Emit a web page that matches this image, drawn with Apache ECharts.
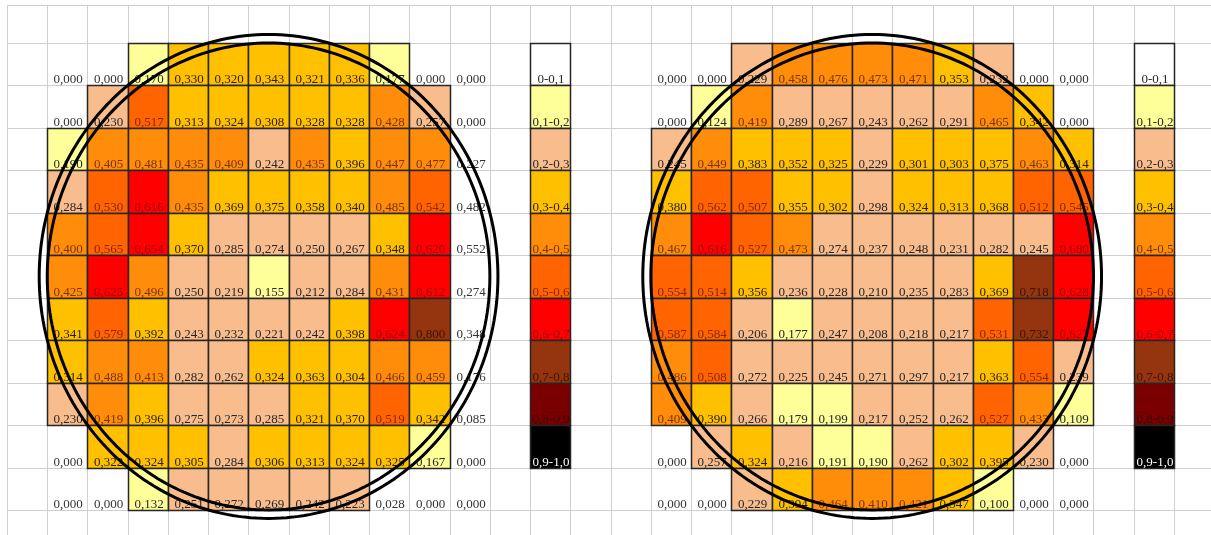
<!DOCTYPE html>
<html>
<head>
<meta charset="utf-8">
<script src="https://cdn.jsdelivr.net/npm/echarts@6/dist/echarts.min.js"></script>
<style>
  html, body { margin: 0; padding: 0; background: #ffffff; }
  #chart { width: 1211px; height: 535px; }
</style>
</head>
<body>
<div id="chart"></div>
<script>
// Wafer A: measured value per die, row by row (11 x 11)
const waferA = [
  [0.000, 0.000, 0.170, 0.330, 0.320, 0.343, 0.321, 0.336, 0.177, 0.000, 0.000],
  [0.000, 0.230, 0.517, 0.313, 0.324, 0.308, 0.328, 0.328, 0.428, 0.257, 0.000],
  [0.190, 0.405, 0.481, 0.435, 0.409, 0.242, 0.435, 0.396, 0.447, 0.477, 0.227],
  [0.284, 0.530, 0.616, 0.435, 0.369, 0.375, 0.358, 0.340, 0.485, 0.542, 0.482],
  [0.400, 0.565, 0.654, 0.370, 0.285, 0.274, 0.250, 0.267, 0.348, 0.620, 0.552],
  [0.425, 0.625, 0.496, 0.250, 0.219, 0.155, 0.212, 0.284, 0.431, 0.612, 0.274],
  [0.341, 0.579, 0.392, 0.243, 0.232, 0.221, 0.242, 0.398, 0.624, 0.7996, 0.348],
  [0.314, 0.488, 0.413, 0.282, 0.262, 0.324, 0.363, 0.304, 0.466, 0.459, 0.176],
  [0.230, 0.419, 0.396, 0.275, 0.273, 0.285, 0.321, 0.370, 0.519, 0.342, 0.085],
  [0.000, 0.322, 0.324, 0.305, 0.284, 0.306, 0.313, 0.324, 0.325, 0.167, 0.000],
  [0.000, 0.000, 0.132, 0.251, 0.272, 0.269, 0.242, 0.223, 0.028, 0.000, 0.000]
];
// Wafer A: first and last die column of the wafer in each row
const waferASpans = [[2, 8], [1, 9], [0, 9], [0, 9], [0, 9], [0, 9], [0, 9], [0, 9], [0, 9], [1, 9], [2, 7]];

// Wafer B: measured value per die, row by row (11 x 11)
const waferB = [
  [0.000, 0.000, 0.229, 0.458, 0.476, 0.473, 0.471, 0.353, 0.232, 0.000, 0.000],
  [0.000, 0.124, 0.419, 0.289, 0.267, 0.243, 0.262, 0.291, 0.465, 0.342, 0.000],
  [0.245, 0.449, 0.383, 0.352, 0.325, 0.229, 0.301, 0.303, 0.375, 0.463, 0.314],
  [0.380, 0.562, 0.507, 0.355, 0.302, 0.298, 0.324, 0.313, 0.368, 0.512, 0.545],
  [0.467, 0.616, 0.527, 0.473, 0.274, 0.237, 0.248, 0.231, 0.282, 0.245, 0.680],
  [0.554, 0.514, 0.356, 0.236, 0.228, 0.210, 0.235, 0.283, 0.369, 0.718, 0.628],
  [0.587, 0.584, 0.206, 0.177, 0.247, 0.208, 0.218, 0.217, 0.531, 0.732, 0.627],
  [0.486, 0.508, 0.272, 0.225, 0.245, 0.271, 0.297, 0.217, 0.363, 0.554, 0.239],
  [0.409, 0.390, 0.266, 0.179, 0.199, 0.217, 0.252, 0.262, 0.527, 0.433, 0.109],
  [0.000, 0.257, 0.324, 0.216, 0.191, 0.190, 0.262, 0.302, 0.395, 0.230, 0.000],
  [0.000, 0.000, 0.229, 0.394, 0.464, 0.410, 0.421, 0.347, 0.100, 0.000, 0.000]
];
// Wafer B: first and last die column of the wafer in each row
const waferBSpans = [[2, 8], [1, 9], [0, 10], [0, 10], [0, 10], [0, 10], [0, 10], [0, 10], [0, 10], [1, 9], [2, 8]];

// Colour scale classes
const binLabels = ['0-0,1', '0,1-0,2', '0,2-0,3', '0,3-0,4', '0,4-0,5', '0,5-0,6', '0,6-0,7', '0,7-0,8', '0,8-0,9', '0,9-1,0'];

// Wafer outline rings, radius in die units
const ringRadii = [5.5, 5.7];

// ---- styling ----
const BIN_COLORS = ['#ffffff', '#ffff99', '#f9bd8d', '#ffc000', '#ff8d0a', '#ff6400', '#ff0000', '#943510', '#7a0000', '#000000'];
const TEXT_COLORS = ['#262626', '#262626', '#262626', '#2a1c08', '#7a3300', '#8a2600', '#9a0000', '#3d1504', '#3a0000', '#ffffff'];
const CELL_BORDER = '#262626';
const SHEET_LINE = '#cfcfcf';
const FONT = '"Liberation Serif", "Times New Roman", serif';

// ---- sheet layout (cell units) ----
const COL_W = 40.24, ROW_H = 42.45;
const SHEET_LEFT = 7, SHEET_TOP = 5, FIRST_ROW_Y = 43;
const TOP_ROW = -(FIRST_ROW_Y - SHEET_TOP) / ROW_H;
const N_COLS = 30, N_ROWS = 12;
const WAFER_A_COL = 1, LEGEND_A_COL = 13, WAFER_B_COL = 16, LEGEND_B_COL = 28;
const WAFER_N = 11;

function binOf(v) { return Math.max(0, Math.min(9, Math.floor(v * 10 + 1e-9))); }
function fmt(v) { return v.toFixed(3).replace('.', ','); }

function cellRect(api, c, r) {
  const p0 = api.coord([c, r]);
  const p1 = api.coord([c + 1, r + 1]);
  const x0 = Math.round(p0[0]) + 0.5, y0 = Math.round(p0[1]) + 0.5;
  const x1 = Math.round(p1[0]) + 0.5, y1 = Math.round(p1[1]) + 0.5;
  return { x: x0, y: y0, width: x1 - x0, height: y1 - y0 };
}

function cellText(rect, text, color) {
  return {
    type: 'text',
    style: {
      text: text,
      x: rect.x + rect.width / 2 + 0.5,
      y: rect.y + rect.height + 0.5,
      align: 'center', verticalAlign: 'bottom',
      textAlign: 'center', textVerticalAlign: 'bottom',
      fill: color, fontSize: 13, fontFamily: FONT
    }
  };
}

// sheet gridlines: [orientation, position]
const sheetLines = [];
for (let c = 0; c <= N_COLS; c++) sheetLines.push([0, c]);
sheetLines.push([1, TOP_ROW]);
for (let r = 0; r <= N_ROWS; r++) sheetLines.push([1, r]);

// die cells: [sheetCol, row, value, insideWafer]
function dieData(values, spans, col0) {
  const out = [];
  values.forEach((row, r) => {
    row.forEach((v, c) => {
      const inside = c >= spans[r][0] && c <= spans[r][1] ? 1 : 0;
      out.push([col0 + c, r, v, inside]);
    });
  });
  return out;
}
const dieCells = dieData(waferA, waferASpans, WAFER_A_COL).concat(dieData(waferB, waferBSpans, WAFER_B_COL));

// legend cells: [sheetCol, row, binIndex]
const legendCells = [];
binLabels.forEach((lab, i) => {
  legendCells.push([LEGEND_A_COL, i, i]);
  legendCells.push([LEGEND_B_COL, i, i]);
});

// rings: [centerCol, centerRow, radius]
const rings = [];
[WAFER_A_COL, WAFER_B_COL].forEach(col0 => {
  ringRadii.forEach(rad => rings.push([col0 + WAFER_N / 2, WAFER_N / 2, rad]));
});

const chart = echarts.init(document.getElementById('chart'), null, { renderer: 'canvas' });
chart.setOption({
  animation: false,
  backgroundColor: '#ffffff',
  grid: {
    left: SHEET_LEFT, top: SHEET_TOP,
    width: N_COLS * COL_W, height: (N_ROWS - TOP_ROW) * ROW_H,
    outerBoundsMode: 'none',
    containLabel: false,
    show: false
  },
  xAxis: { type: 'value', min: 0, max: N_COLS, show: false },
  yAxis: { type: 'value', min: TOP_ROW, max: N_ROWS, inverse: true, show: false },
  series: [
    {
      type: 'custom', name: 'sheet', z: 1, silent: true,
      data: sheetLines,
      renderItem: function (params, api) {
        const kind = api.value(0), pos = api.value(1);
        let a, b;
        if (kind === 0) { a = api.coord([pos, TOP_ROW]); b = api.coord([pos, N_ROWS]); }
        else { a = api.coord([0, pos]); b = api.coord([N_COLS, pos]); }
        const snap = v => Math.round(v) + 0.5;
        return {
          type: 'line',
          shape: kind === 0
            ? { x1: snap(a[0]), y1: a[1], x2: snap(b[0]), y2: b[1] }
            : { x1: a[0], y1: snap(a[1]), x2: b[0], y2: snap(b[1]) },
          style: { stroke: SHEET_LINE, lineWidth: 1 }
        };
      }
    },
    {
      type: 'custom', name: 'dies', z: 2, silent: true,
      data: dieCells,
      renderItem: function (params, api) {
        const c = api.value(0), r = api.value(1), v = api.value(2), inside = api.value(3);
        const rect = cellRect(api, c, r);
        const b = binOf(v);
        const children = [];
        if (inside) {
          children.push({ type: 'rect', shape: rect, style: { fill: BIN_COLORS[b], stroke: CELL_BORDER, lineWidth: 1.5 } });
        }
        children.push(cellText(rect, fmt(v), inside ? TEXT_COLORS[b] : '#333333'));
        return { type: 'group', children: children };
      }
    },
    {
      type: 'custom', name: 'scale', z: 2, silent: true,
      data: legendCells,
      renderItem: function (params, api) {
        const c = api.value(0), r = api.value(1), b = api.value(2);
        const rect = cellRect(api, c, r);
        return {
          type: 'group',
          children: [
            { type: 'rect', shape: rect, style: { fill: BIN_COLORS[b], stroke: CELL_BORDER, lineWidth: 1.5 } },
            cellText(rect, binLabels[b], TEXT_COLORS[b])
          ]
        };
      }
    },
    {
      type: 'custom', name: 'rings', z: 3, silent: true,
      data: rings,
      renderItem: function (params, api) {
        const cx = api.value(0), cy = api.value(1), rad = api.value(2);
        const pts = [];
        const n = 240;
        for (let i = 0; i <= n; i++) {
          const t = (i / n) * Math.PI * 2;
          pts.push(api.coord([cx + rad * Math.cos(t), cy + rad * Math.sin(t)]));
        }
        return {
          type: 'polyline',
          shape: { points: pts },
          style: { stroke: '#000000', lineWidth: 3, fill: null }
        };
      }
    }
  ]
});
</script>
</body>
</html>
